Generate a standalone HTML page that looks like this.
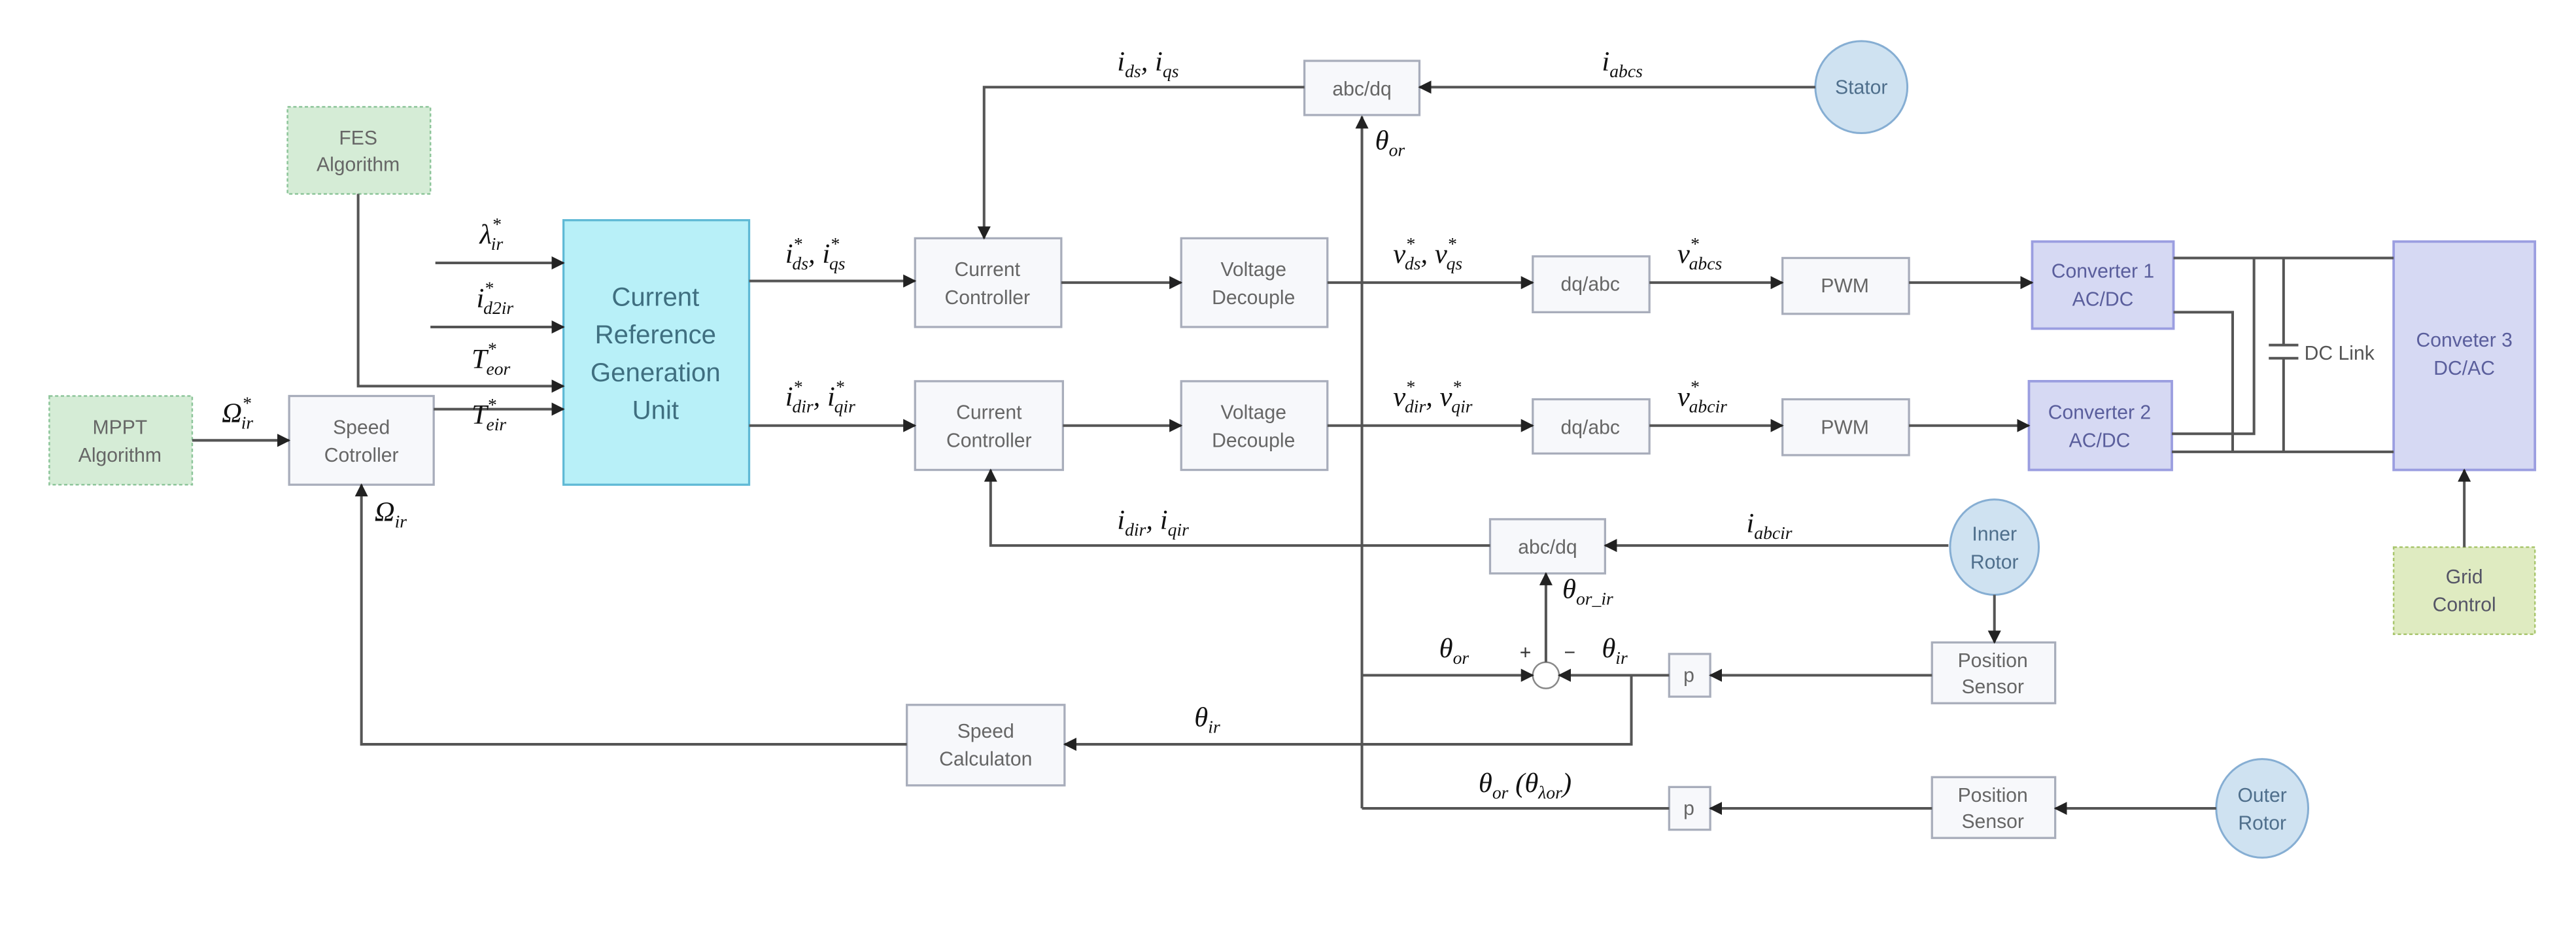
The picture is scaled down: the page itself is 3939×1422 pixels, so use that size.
<!DOCTYPE html>
<html><head><meta charset="utf-8"><style>
html,body{margin:0;padding:0;background:#fff}
svg{display:block}
.b{font-family:"Liberation Sans",sans-serif;font-size:12px;fill:#666;text-anchor:middle}
.m{font-family:"Liberation Serif",serif;font-style:italic;font-size:17px;fill:#111}
.s{font-size:11px}
.ln{stroke:#555;stroke-width:1.6;fill:none}
.bx{fill:#f7f8fb;stroke:#a8adbb;stroke-width:1.3}
</style></head><body>
<svg width="3939" height="1422" viewBox="0 0 1568 566" xmlns="http://www.w3.org/2000/svg">
<defs><marker id="a" viewBox="0 0 10 10" refX="9" refY="5" markerWidth="5" markerHeight="5" orient="auto"><path d="M0,0L10,5L0,10z" fill="#222"/></marker></defs>
<rect width="1568" height="566" fill="#fff"/>

<!-- boxes -->
<rect x="175" y="65" width="87" height="53" fill="#d5ecd6" stroke="#8dc59a" stroke-dasharray="2,1.5"/>
<text class="b" x="218" y="88">FES</text><text class="b" x="218" y="104">Algorithm</text>
<rect x="30" y="241" width="87" height="54" fill="#d5ecd6" stroke="#8dc59a" stroke-dasharray="2,1.5"/>
<text class="b" x="73" y="264">MPPT</text><text class="b" x="73" y="281">Algorithm</text>
<rect class="bx" x="176" y="241" width="88" height="54"/>
<text class="b" x="220" y="264">Speed</text><text class="b" x="220" y="281">Cotroller</text>
<rect x="343" y="134" width="113" height="161" fill="#b8f0f8" stroke="#5fb9d5" stroke-width="1.3"/>
<g style="font-family:'Liberation Sans',sans-serif;font-size:16px;fill:#3f6f80;text-anchor:middle">
<text x="399" y="186">Current</text><text x="399" y="209">Reference</text><text x="399" y="232">Generation</text><text x="399" y="255">Unit</text></g>

<rect class="bx" x="557" y="145" width="89" height="54"/><text class="b" x="601" y="168">Current</text><text class="b" x="601" y="185">Controller</text>
<rect class="bx" x="557" y="232" width="90" height="54"/><text class="b" x="602" y="255">Current</text><text class="b" x="602" y="272">Controller</text>
<rect class="bx" x="719" y="145" width="89" height="54"/><text class="b" x="763" y="168">Voltage</text><text class="b" x="763" y="185">Decouple</text>
<rect class="bx" x="719" y="232" width="89" height="54"/><text class="b" x="763" y="255">Voltage</text><text class="b" x="763" y="272">Decouple</text>
<rect class="bx" x="794" y="37" width="70" height="33"/><text class="b" x="829" y="58">abc/dq</text>
<rect class="bx" x="933" y="156" width="71" height="34"/><text class="b" x="968" y="177">dq/abc</text>
<rect class="bx" x="933" y="243" width="71" height="33"/><text class="b" x="968" y="264">dq/abc</text>
<rect class="bx" x="1085" y="157" width="77" height="34"/><text class="b" x="1123" y="178">PWM</text>
<rect class="bx" x="1085" y="243" width="77" height="34"/><text class="b" x="1123" y="264">PWM</text>
<rect class="bx" x="907" y="316" width="70" height="33"/><text class="b" x="942" y="337">abc/dq</text>
<rect class="bx" x="1176" y="391" width="75" height="37"/><text class="b" x="1213" y="406">Position</text><text class="b" x="1213" y="422">Sensor</text>
<rect class="bx" x="1176" y="473" width="75" height="37"/><text class="b" x="1213" y="488">Position</text><text class="b" x="1213" y="504">Sensor</text>
<rect class="bx" x="1016" y="398" width="25" height="26"/><text class="b" x="1028" y="415">p</text>
<rect class="bx" x="1016" y="479" width="25" height="26"/><text class="b" x="1028" y="496">p</text>
<rect class="bx" x="552" y="429" width="96" height="49"/><text class="b" x="600" y="449">Speed</text><text class="b" x="600" y="466">Calculaton</text>

<g fill="#d6d9f3" stroke="#9b9ee0" stroke-width="1.5">
<rect x="1237" y="147" width="86" height="53"/><rect x="1235" y="232" width="87" height="54"/><rect x="1457" y="147" width="86" height="139"/></g>
<g class="b" style="fill:#5a5e9c"><text x="1280" y="169">Converter 1</text><text x="1280" y="186">AC/DC</text>
<text x="1278" y="255">Converter 2</text><text x="1278" y="272">AC/DC</text>
<text x="1500" y="211">Conveter 3</text><text x="1500" y="228">DC/AC</text></g>
<rect x="1457" y="333" width="86" height="53" fill="#dfebc1" stroke="#a9c66e" stroke-dasharray="2,1.5"/>
<text class="b" x="1500" y="355" style="fill:#556">Grid</text><text class="b" x="1500" y="372" style="fill:#556">Control</text>

<g fill="#cfe2f1" stroke="#86aed3" stroke-width="1.2">
<circle cx="1133" cy="53" r="28"/><ellipse cx="1214" cy="333" rx="27" ry="29"/><ellipse cx="1377" cy="492" rx="28" ry="30"/></g>
<g class="b" style="fill:#4f6f8c"><text x="1133" y="57">Stator</text><text x="1214" y="329">Inner</text><text x="1214" y="346">Rotor</text>
<text x="1377" y="488">Outer</text><text x="1377" y="505">Rotor</text></g>
<circle cx="941" cy="411" r="8" fill="#fff" stroke="#888"/>

<!-- connectors -->
<g class="ln">
<path d="M265 160H343" marker-end="url(#a)"/>
<path d="M262 199H343" marker-end="url(#a)"/>
<path d="M218 118V235H343" marker-end="url(#a)"/>
<path d="M264 249H343" marker-end="url(#a)"/>
<path d="M117 268H176" marker-end="url(#a)"/>
<path d="M456 171H557" marker-end="url(#a)"/>
<path d="M456 259H557" marker-end="url(#a)"/>
<path d="M646 172H719" marker-end="url(#a)"/>
<path d="M647 259H719" marker-end="url(#a)"/>
<path d="M808 172H933" marker-end="url(#a)"/>
<path d="M808 259H933" marker-end="url(#a)"/>
<path d="M1004 172H1085" marker-end="url(#a)"/>
<path d="M1004 259H1085" marker-end="url(#a)"/>
<path d="M1162 172H1237" marker-end="url(#a)"/>
<path d="M1162 259H1235" marker-end="url(#a)"/>
<path d="M1105 53H864" marker-end="url(#a)"/>
<path d="M794 53H599V145" marker-end="url(#a)"/>
<path d="M829 492V71" marker-end="url(#a)"/>
<path d="M1186 332H977" marker-end="url(#a)"/>
<path d="M907 332H603V286" marker-end="url(#a)"/>
<path d="M1214 362V391" marker-end="url(#a)"/>
<path d="M1176 411H1041" marker-end="url(#a)"/>
<path d="M1016 411H949" marker-end="url(#a)"/>
<path d="M829 411H933" marker-end="url(#a)"/>
<path d="M941 403V349" marker-end="url(#a)"/>
<path d="M993 411V453H648" marker-end="url(#a)"/>
<path d="M552 453H220V295" marker-end="url(#a)"/>
<path d="M1349 492H1251" marker-end="url(#a)"/>
<path d="M1176 492H1041" marker-end="url(#a)"/>
<path d="M1016 492H829"/>
<path d="M1500 333V286" marker-end="url(#a)"/>
<path d="M1323 157H1457M1322 275H1457M1372 157V264H1322M1323 190H1359V275"/>
<path d="M1390 157V210M1390 218V275"/>
<path d="M1381 210H1399M1381 218H1399"/>
</g>
<text class="b" x="1424" y="219" style="fill:#555">DC Link</text>

<!-- math labels -->
<g class="m">
<text x="680" y="43">i<tspan class="s" dy="4">ds</tspan><tspan dy="-4">,   i</tspan><tspan class="s" dy="4">qs</tspan></text>
<text x="975" y="43">i<tspan class="s" dy="4">abcs</tspan></text>
<text x="837" y="91">θ<tspan class="s" dy="4">or</tspan></text>
<text x="292" y="148">λ<tspan class="s" dy="-8">*</tspan><tspan class="s" dx="-6" dy="12">ir</tspan></text>
<text x="290" y="187">i<tspan class="s" dy="-8">*</tspan><tspan class="s" dx="-6" dy="12">d2ir</tspan></text>
<text x="287" y="224">T<tspan class="s" dy="-8">*</tspan><tspan class="s" dx="-6" dy="12">eor</tspan></text>
<text x="287" y="258">T<tspan class="s" dy="-8">*</tspan><tspan class="s" dx="-6" dy="12">eir</tspan></text>
<text x="135" y="257">Ω<tspan class="s" dy="-8">*</tspan><tspan class="s" dx="-6" dy="12">ir</tspan></text>
<text x="228" y="317">Ω<tspan class="s" dy="4">ir</tspan></text>
<text x="478" y="160">i<tspan class="s" dy="-8">*</tspan><tspan class="s" dx="-6" dy="12">ds</tspan><tspan dy="-4">,  i</tspan><tspan class="s" dy="-8">*</tspan><tspan class="s" dx="-6" dy="12">qs</tspan></text>
<text x="478" y="247">i<tspan class="s" dy="-8">*</tspan><tspan class="s" dx="-6" dy="12">dir</tspan><tspan dy="-4">, i</tspan><tspan class="s" dy="-8">*</tspan><tspan class="s" dx="-6" dy="12">qir</tspan></text>
<text x="848" y="160">v<tspan class="s" dy="-8">*</tspan><tspan class="s" dx="-6" dy="12">ds</tspan><tspan dy="-4">,  v</tspan><tspan class="s" dy="-8">*</tspan><tspan class="s" dx="-6" dy="12">qs</tspan></text>
<text x="848" y="247">v<tspan class="s" dy="-8">*</tspan><tspan class="s" dx="-6" dy="12">dir</tspan><tspan dy="-4">, v</tspan><tspan class="s" dy="-8">*</tspan><tspan class="s" dx="-6" dy="12">qir</tspan></text>
<text x="1021" y="160">v<tspan class="s" dy="-8">*</tspan><tspan class="s" dx="-6" dy="12">abcs</tspan></text>
<text x="1021" y="247">v<tspan class="s" dy="-8">*</tspan><tspan class="s" dx="-6" dy="12">abcir</tspan></text>
<text x="680" y="322">i<tspan class="s" dy="4">dir</tspan><tspan dy="-4">,  i</tspan><tspan class="s" dy="4">qir</tspan></text>
<text x="1063" y="324">i<tspan class="s" dy="4">abcir</tspan></text>
<text x="951" y="364">θ<tspan class="s" dy="4">or_ir</tspan></text>
<text x="876" y="400">θ<tspan class="s" dy="4">or</tspan></text>
<text x="975" y="400">θ<tspan class="s" dy="4">ir</tspan></text>
<text x="727" y="442">θ<tspan class="s" dy="4">ir</tspan></text>
<text x="900" y="482">θ<tspan class="s" dy="4">or</tspan><tspan dy="-4"> (θ</tspan><tspan class="s" dy="4">λor</tspan><tspan dy="-4">)</tspan></text>
</g>
<text x="925" y="401" style="font-family:'Liberation Sans',sans-serif;font-size:12px;fill:#333">+</text>
<text x="952" y="401" style="font-family:'Liberation Sans',sans-serif;font-size:12px;fill:#333">−</text>
</svg>
</body></html>
